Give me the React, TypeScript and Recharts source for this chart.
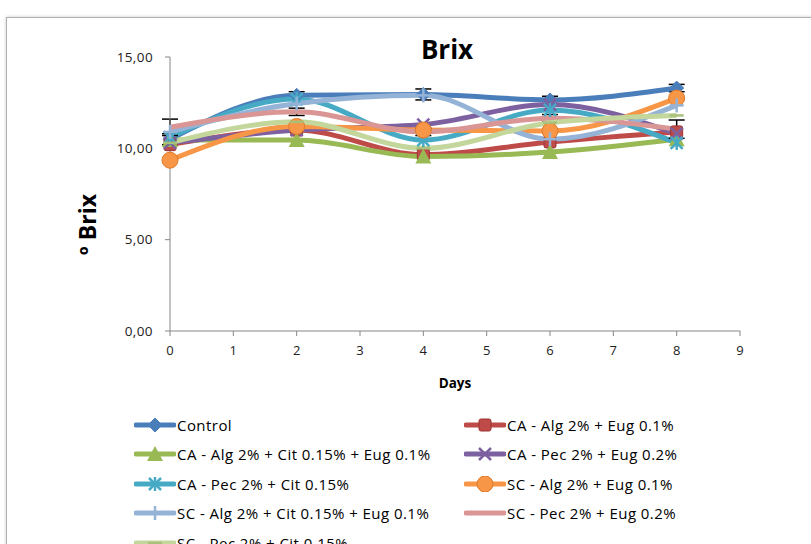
import React from "react";
import { LineChart, Line, XAxis, YAxis, ErrorBar } from "recharts";

const DAYS = [0, 2, 4, 6, 8];
const X_TICKS = [0, 1, 2, 3, 4, 5, 6, 7, 8, 9];
const Y_TICKS = [0, 5, 10, 15];

const CONTROL = [10.5, 12.9, 12.95, 12.65, 13.3];
const CA_ALG_EUG = [10.2, 11.0, 9.65, 10.35, 10.9];
const CA_ALG_CIT_EUG = [10.45, 10.45, 9.55, 9.8, 10.5];
const CA_PEC_EUG = [10.3, 11.0, 11.3, 12.4, 10.8];
const CA_PEC_CIT = [10.6, 12.7, 10.45, 12.1, 10.3];
const SC_ALG_EUG = [9.35, 11.2, 11.0, 10.95, 12.75];
const SC_ALG_CIT_EUG = [10.9, 12.45, 12.9, 10.5, 12.35];
const SC_PEC_EUG = [11.15, 12.0, 10.9, 11.65, 11.05];
const SC_PEC_CIT = [10.3, 11.45, 10.0, 11.4, 11.8];

const CONTROL_ERR = [0.3, 0.2, 0.3, 0.2, 0.2];
const SC_PEC_EUG_ERR = [0.45, 0.2, 0.2, 0.2, 0.5];

const SERIES = [
  { key: "s1", name: "Control", values: CONTROL, color: "#4A7EBB", shape: "diamond" },
  { key: "s2", name: "CA - Alg 2% + Eug 0.1%", values: CA_ALG_EUG, color: "#BE4B48", shape: "square" },
  { key: "s3", name: "CA - Alg 2% + Cit 0.15% + Eug 0.1%", values: CA_ALG_CIT_EUG, color: "#98B954", shape: "triangle" },
  { key: "s4", name: "CA - Pec 2% + Eug 0.2%", values: CA_PEC_EUG, color: "#7D60A0", shape: "x" },
  { key: "s5", name: "CA - Pec 2% + Cit 0.15%", values: CA_PEC_CIT, color: "#46AAC5", shape: "star" },
  { key: "s6", name: "SC - Alg 2% + Eug 0.1%", values: SC_ALG_EUG, color: "#F79646", shape: "circle" },
  { key: "s7", name: "SC - Alg 2% + Cit 0.15% + Eug 0.1%", values: SC_ALG_CIT_EUG, color: "#95B3D7", shape: "plus" },
  { key: "s8", name: "SC - Pec 2% + Eug 0.2%", values: SC_PEC_EUG, color: "#D99694", shape: "none" },
  { key: "s9", name: "SC - Pec 2% + Cit 0.15%", values: SC_PEC_CIT, color: "#C3D69B", shape: "dash" },
];

const data = DAYS.map((d, i) => {
  const row: any = { day: d, e1: CONTROL_ERR[i], e8: SC_PEC_EUG_ERR[i] };
  SERIES.forEach((s) => (row[s.key] = s.values[i]));
  return row;
});

const FONT = "'Open Sans', 'DejaVu Sans', sans-serif";

function Marker({ cx, cy, shape, color }: any) {
  if (cx == null || cy == null) return null;
  const r = 7;
  switch (shape) {
    case "diamond":
      return <polygon points={`${cx},${cy - r} ${cx + r},${cy} ${cx},${cy + r} ${cx - r},${cy}`} fill={color} stroke={color} />;
    case "square":
      return <rect x={cx - 6} y={cy - 6} width={12} height={12} rx={2} fill={color} stroke="#9c3330" />;
    case "triangle":
      return <polygon points={`${cx},${cy - 8} ${cx + 8},${cy + 7} ${cx - 8},${cy + 7}`} fill={color} />;
    case "x":
      return (
        <g stroke={color} strokeWidth={2.5}>
          <line x1={cx - 6} y1={cy - 6} x2={cx + 6} y2={cy + 6} />
          <line x1={cx - 6} y1={cy + 6} x2={cx + 6} y2={cy - 6} />
        </g>
      );
    case "star":
      return (
        <g stroke={color} strokeWidth={2.5}>
          <line x1={cx - 6} y1={cy - 6} x2={cx + 6} y2={cy + 6} />
          <line x1={cx - 6} y1={cy + 6} x2={cx + 6} y2={cy - 6} />
          <line x1={cx} y1={cy - 7} x2={cx} y2={cy + 7} />
        </g>
      );
    case "circle":
      return <circle cx={cx} cy={cy} r={8} fill={color} stroke="#e07a2a" />;
    case "plus":
      return (
        <g stroke={color} strokeWidth={2.5}>
          <line x1={cx} y1={cy - 7} x2={cx} y2={cy + 7} />
          <line x1={cx - 7} y1={cy} x2={cx + 7} y2={cy} />
        </g>
      );
    case "dash":
      return <line x1={cx - 7} y1={cy} x2={cx + 7} y2={cy} stroke="#a9c07a" strokeWidth={2.5} />;
    default:
      return null;
  }
}

function LegendItem({ s }: any) {
  return (
    <div style={{ display: "flex", alignItems: "center", height: 29.5 }}>
      <svg width={42} height={16}>
        <line x1={2} y1={8} x2={40} y2={8} stroke={s.color} strokeWidth={5} strokeLinecap="round" />
        <Marker cx={21} cy={8} shape={s.shape} color={s.color} />
      </svg>
      <span style={{ marginLeft: 1, whiteSpace: "nowrap" }}>{s.name}</span>
    </div>
  );
}

export default function App() {
  return (
    <div style={{ position: "absolute", left: 0, top: 0, width: 811, height: 544, overflow: "hidden", background: "#fff", fontFamily: FONT }}>
      <div style={{ position: "absolute", left: 6, top: 17, width: 900, height: 700, border: "1px solid #b0b0b0", boxShadow: "0 0 3px #c8c8c8" }} />
      <div style={{ position: "absolute", left: 0, width: 894, top: 31, textAlign: "center", fontSize: 26, fontWeight: 700, color: "#000" }}>
        Brix
      </div>
      <div style={{ position: "absolute", top: 0, left: 0 }}>
        <LineChart width={811} height={544} data={data} margin={{ top: 57, right: 71, left: 110, bottom: 183 }}>
          <XAxis
            dataKey="day"
            type="number"
            domain={[0, 9]}
            ticks={X_TICKS}
            height={30}
            tick={{ fontSize: 13, fill: "#222", fontFamily: FONT }}
            tickLine={{ stroke: "#868686" }}
            axisLine={{ stroke: "#868686" }}
            tickSize={5}
            tickMargin={10}
            label={{ value: "Days", position: "bottom", offset: 17, fontSize: 13.5, fontWeight: 700, fill: "#000" }}
          />
          <YAxis
            type="number"
            domain={[0, 15]}
            ticks={Y_TICKS}
            width={60}
            tickFormatter={(v: number) => v.toFixed(2).replace(".", ",")}
            tick={{ fontSize: 13.5, fill: "#222", fontFamily: FONT, letterSpacing: 0.4 }}
            tickLine={{ stroke: "#868686" }}
            axisLine={{ stroke: "#868686" }}
            tickSize={5}
            tickMargin={12}
            label={{ value: "º Brix", angle: -90, position: "left", offset: 22, fontSize: 23, fontWeight: 700, fill: "#000" }}
          />
          {SERIES.map((s) => (
            <Line
              key={s.key}
              dataKey={s.key}
              name={s.name}
              type="monotone"
              stroke={s.color}
              strokeWidth={5}
              isAnimationActive={false}
              dot={(p: any) => <Marker key={`${s.key}-${p.index}`} cx={p.cx} cy={p.cy} shape={s.shape} color={s.color} />}
              activeDot={false}
            >
              {s.key === "s1" && <ErrorBar dataKey="e1" width={8} stroke="#000" strokeWidth={1.5} direction="y" />}
              {s.key === "s8" && <ErrorBar dataKey="e8" width={8} stroke="#000" strokeWidth={1.5} direction="y" />}
            </Line>
          ))}
        </LineChart>
      </div>
      <div
        style={{
          position: "absolute",
          left: 134,
          top: 410,
          display: "grid",
          gridTemplateColumns: "330px 300px",
          fontSize: 15,
          letterSpacing: 0.45,
          color: "#000",
        }}
      >
        {SERIES.map((s) => (
          <LegendItem key={s.key} s={s} />
        ))}
      </div>
    </div>
  );
}
